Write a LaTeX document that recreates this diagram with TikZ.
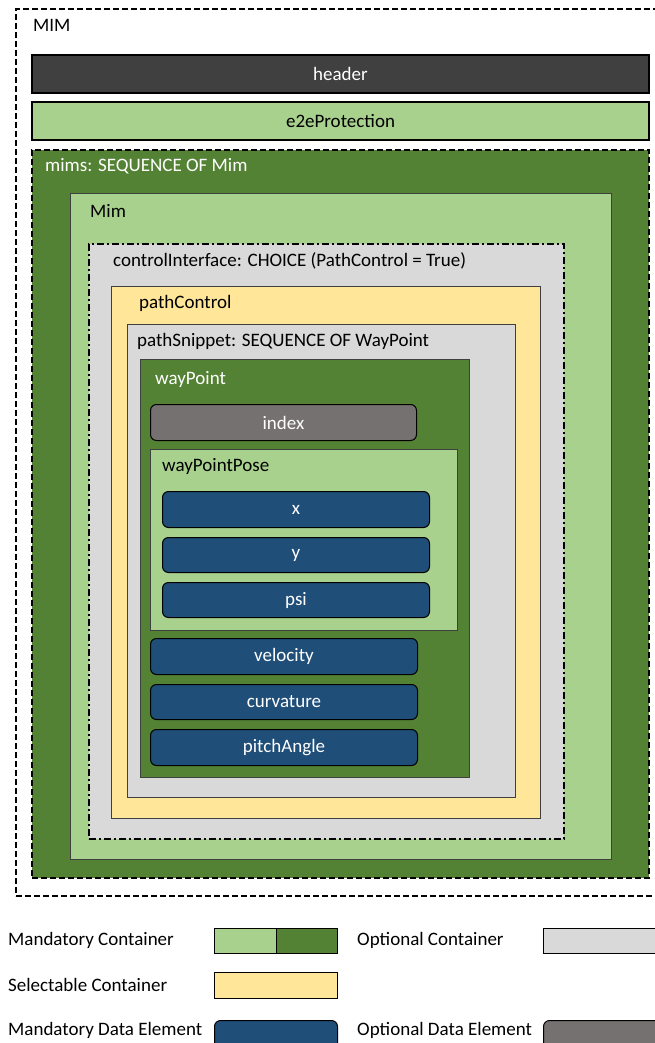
\documentclass[tikz,border=0pt]{standalone}
\usepackage{fontspec}
\setmainfont{Carlito}
\usetikzlibrary{positioning}

\definecolor{hdrgray}{HTML}{404040}
\definecolor{mgreenL}{HTML}{A9D18E}
\definecolor{mgreenD}{HTML}{548235}
\definecolor{optgray}{HTML}{D9D9D9}
\definecolor{selyellow}{HTML}{FFE699}
\definecolor{dataBlue}{HTML}{1F4E79}
\definecolor{dataGray}{HTML}{767171}

\begin{document}
\begin{tikzpicture}[x=1pt, y=-1pt,
  every node/.style={font=\fontsize{19}{22}\selectfont},
  cont/.style={draw, rectangle, anchor=north west, inner sep=0pt},
  thinbox/.style={cont, draw=black!75, line width=1pt},
  dataelem/.style={cont, rounded corners=6pt, line width=1pt, text=white},
  lbl/.style={anchor=west, inner sep=0pt},
  wlbl/.style={lbl, text=white},
  dash1/.style={dash pattern=on 6pt off 3pt, line width=2pt},
  dashdot1/.style={dash pattern=on 7pt off 3pt on 2pt off 3pt, line width=2pt}]
\useasboundingbox (0,0) rectangle (655,1043);
\clip (0,0) rectangle (655,1043);

% outer MIM frame
\node[cont, dash1, minimum width=670, minimum height=887] (MIM) at (15,8) {};
\node[lbl] (MIMlbl) at (33,25) {MIM};

\node[cont, fill=hdrgray, line width=2pt, text=white, minimum width=617, minimum height=38] (header) at (31,54) {header};
\node[cont, fill=mgreenL, line width=2pt, minimum width=617, minimum height=38] (e2e) at (31,101) {e2eProtection};

% mims
\node[cont, dash1, fill=mgreenD, minimum width=617, minimum height=728] (mims) at (31,149) {};
\node[wlbl] (mimslbl) at (45,166) {mims: SEQUENCE OF Mim};

\node[thinbox, fill=mgreenL, minimum width=541, minimum height=666] (Mim) at (70,193) {};
\node[lbl] (Mimlbl) at (90,211) {Mim};

\node[cont, dashdot1, fill=optgray, minimum width=475, minimum height=595] (ctrlIf) at (88,243) {};
\node[lbl] (ctrlIflbl) at (113,261) {controlInterface: CHOICE (PathControl = True)};

\node[thinbox, fill=selyellow, minimum width=429, minimum height=532] (pathCtrl) at (111,286) {};
\node[lbl] (pathCtrllbl) at (139,303) {pathControl};

\node[thinbox, fill=optgray, minimum width=388, minimum height=473] (snippet) at (127,324) {};
\node[lbl] (snippetlbl) at (137,341) {pathSnippet: SEQUENCE OF WayPoint};

\node[thinbox, fill=mgreenD, minimum width=329, minimum height=418] (wayPoint) at (140,359) {};
\node[wlbl] (wayPointlbl) at (155,379) {wayPoint};

\node[dataelem, draw=black, fill=dataGray, minimum width=266, minimum height=36] (index) at (150,404) {index};

\node[thinbox, fill=mgreenL, minimum width=307, minimum height=181] (pose) at (150,449) {};
\node[lbl] (poselbl) at (162,466) {wayPointPose};

\node[dataelem, fill=dataBlue, minimum width=267, minimum height=36] (x) at (162,491) {x};
\node[dataelem, fill=dataBlue, minimum width=267, minimum height=35] (y) at (162,537) {y};
\node[dataelem, fill=dataBlue, minimum width=267, minimum height=35] (psi) at (162,582) {psi};

\node[dataelem, fill=dataBlue, minimum width=267, minimum height=36] (velocity) at (150,638) {velocity};
\node[dataelem, fill=dataBlue, minimum width=267, minimum height=35] (curvature) at (150,684) {curvature};
\node[dataelem, fill=dataBlue, minimum width=267, minimum height=36] (pitch) at (150,729) {pitchAngle};

% legend
\node[lbl] (legMC) at (8,940) {Mandatory Container};
\node[thinbox, draw=black, fill=mgreenL, minimum width=62, minimum height=25] (legMCa) at (214,928) {};
\node[thinbox, draw=black, fill=mgreenD, minimum width=61, minimum height=25] (legMCb) at (276,928) {};
\node[lbl] (legOC) at (357,940) {Optional Container};
\node[thinbox, draw=black, fill=optgray, minimum width=130, minimum height=25] (legOCbox) at (543,928) {};

\node[lbl] (legSC) at (8,985) {Selectable Container};
\node[thinbox, draw=black, fill=selyellow, minimum width=123, minimum height=26] (legSCbox) at (214,972) {};

\node[lbl] (legMD) at (8,1030) {Mandatory Data Element};
\node[dataelem, draw=black, fill=dataBlue, minimum width=123, minimum height=35] (legMDbox) at (214,1020) {};
\node[lbl] (legOD) at (357,1030) {Optional Data Element};
\node[dataelem, draw=black, fill=dataGray, minimum width=130, minimum height=35] (legODbox) at (543,1020) {};
\end{tikzpicture}
\end{document}
